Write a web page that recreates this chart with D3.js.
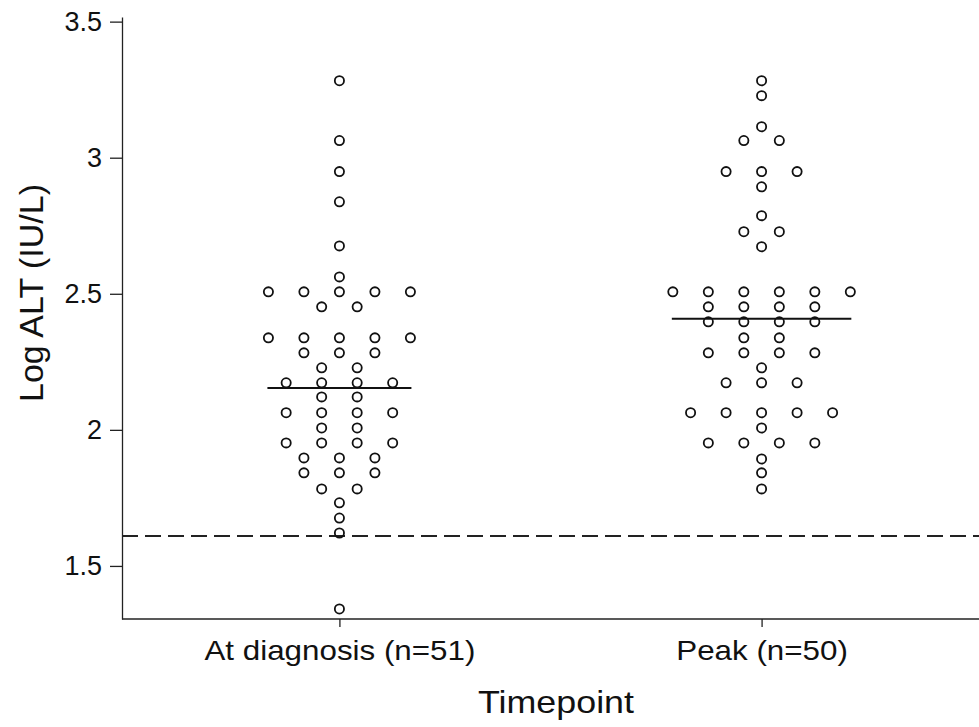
<!DOCTYPE html>
<html>
<head>
<meta charset="utf-8">
<script src="https://cdn.jsdelivr.net/npm/d3@7"></script>
<style>
  body { margin: 0; background: #fff; }
  svg { display: block; font-family: "Liberation Sans", Arial, sans-serif; }
  .axis path, .axis line { stroke: #222; stroke-width: 1.3; }
  .axis text { fill: #111; }
</style>
</head>
<body>
<svg id="chart" width="979" height="727"></svg>
<script>
// categories
var groups = ["At diagnosis (n=51)", "Peak (n=50)"];

// log ALT, one value per patient
var diagnosisALT = [3.283, 3.063, 2.949, 2.838, 2.676, 2.562,
  2.507, 2.507, 2.507, 2.507, 2.507,
  2.452, 2.452,
  2.338, 2.338, 2.338, 2.338, 2.338,
  2.283, 2.283, 2.283,
  2.228, 2.228,
  2.173, 2.173, 2.173, 2.173,
  2.121, 2.121,
  2.063, 2.063, 2.063, 2.063,
  2.007, 2.007,
  1.952, 1.952, 1.952, 1.952,
  1.897, 1.897, 1.897,
  1.842, 1.842, 1.842,
  1.783, 1.783,
  1.732, 1.676, 1.621, 1.342];

var peakALT = [3.283, 3.228, 3.114,
  3.063, 3.063,
  2.949, 2.949, 2.949,
  2.893, 2.787,
  2.728, 2.728,
  2.673,
  2.507, 2.507, 2.507, 2.507, 2.507, 2.507,
  2.452, 2.452, 2.452, 2.452,
  2.397, 2.397, 2.397, 2.397,
  2.338, 2.338,
  2.283, 2.283, 2.283, 2.283,
  2.228,
  2.173, 2.173, 2.173,
  2.063, 2.063, 2.063, 2.063, 2.063,
  2.007,
  1.952, 1.952, 1.952, 1.952,
  1.893, 1.842, 1.783];

var medianALT = [2.154, 2.408];
var yTicks = [1.5, 2, 2.5, 3, 3.5];
var referenceALT = 1.61;   // dashed line (upper limit of normal)

var series = [diagnosisALT, peakALT];

var svg = d3.select("#chart");
var mLeft = 122, mRight = 979, mTop = 17, mBottom = 619;
var dotGap = 35.5;

var xScale = d3.scalePoint().domain(groups).range([mLeft, mRight]).padding(0.515);
var yScale = d3.scaleLinear().domain([1.305, 3.517]).range([mBottom, mTop]);

// dashed reference line
svg.append("line")
  .attr("x1", mLeft).attr("x2", mRight)
  .attr("y1", yScale(referenceALT)).attr("y2", yScale(referenceALT))
  .style("stroke", "#222").style("stroke-width", 2)
  .style("stroke-dasharray", "16,7");

// dots: rows of equal value are centred on the category
series.forEach(function(vals, gi) {
  var rows = d3.group(vals, function(v) { return v; });
  var cx = xScale(groups[gi]);
  var maxOff = 0;
  var pts = [];
  rows.forEach(function(arr, v) {
    arr.forEach(function(d, i) {
      var off = (i - (arr.length - 1) / 2) * dotGap;
      maxOff = Math.max(maxOff, Math.abs(off));
      pts.push([cx + off, v]);
    });
  });

  svg.append("g").selectAll(".dot").data(pts).enter().append("circle")
    .attr("class", "dot")
    .attr("cx", function(d) { return d[0]; })
    .attr("cy", function(d) { return yScale(d[1]); })
    .attr("r", 4.6)
    .style("fill", "none").style("stroke", "#111").style("stroke-width", 1.8);

  // median line
  svg.append("line")
    .attr("x1", cx - maxOff - 1).attr("x2", cx + maxOff + 1)
    .attr("y1", yScale(medianALT[gi])).attr("y2", yScale(medianALT[gi]))
    .style("stroke", "#111").style("stroke-width", 2);
});

// y axis
var yAxis = svg.append("g")
  .attr("class", "y axis")
  .attr("transform", "translate(" + mLeft + ",0)")
  .call(d3.axisLeft(yScale).tickValues(yTicks).tickFormat(d3.format("")).tickSize(12).tickPadding(8).tickSizeOuter(0));
yAxis.selectAll("text").style("font-size", "27px");

// x axis
var xAxis = svg.append("g")
  .attr("class", "x axis")
  .attr("transform", "translate(0," + mBottom + ")")
  .call(d3.axisBottom(xScale).tickSize(8).tickPadding(13).tickSizeOuter(0));
xAxis.select(".domain").attr("d", "M" + mLeft + ",0H" + mRight);
// the reference type is a little wider than Arial
xAxis.selectAll("text").style("font-size", "28px").attr("transform", "scale(1.12,1)");

// axis titles
svg.append("text")
  .attr("transform", "translate(43,293) rotate(-90)")
  .style("text-anchor", "middle")
  .style("font-size", "34px")
  .style("fill", "#111")
  .text("Log ALT (IU/L)");

svg.append("text")
  .attr("transform", "translate(556,713) scale(1.12,1)")
  .style("text-anchor", "middle")
  .style("font-size", "32px")
  .style("fill", "#111")
  .text("Timepoint");
</script>
</body>
</html>
